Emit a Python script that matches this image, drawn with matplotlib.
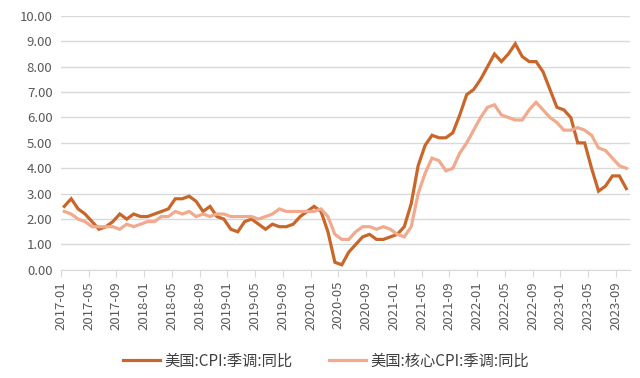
import numpy as np
import matplotlib
matplotlib.use("Agg")
import matplotlib.pyplot as plt

plt.rcParams["font.family"] = ["Noto Sans CJK SC", "DejaVu Sans"]

# monthly, 2017-01 .. 2023-10
months = [f"{y}-{m:02d}" for y in range(2017, 2024) for m in range(1, 13)][:82]

cpi = [
    2.5, 2.8, 2.4, 2.2, 1.9, 1.6, 1.7, 1.9, 2.2, 2.0, 2.2, 2.1,   # 2017
    2.1, 2.2, 2.3, 2.4, 2.8, 2.8, 2.9, 2.7, 2.3, 2.5, 2.1, 2.0,   # 2018
    1.6, 1.5, 1.9, 2.0, 1.8, 1.6, 1.8, 1.7, 1.7, 1.8, 2.1, 2.3,   # 2019
    2.5, 2.3, 1.5, 0.3, 0.2, 0.7, 1.0, 1.3, 1.4, 1.2, 1.2, 1.3,   # 2020
    1.4, 1.7, 2.6, 4.1, 4.9, 5.3, 5.2, 5.2, 5.4, 6.1, 6.9, 7.1,   # 2021
    7.5, 8.0, 8.5, 8.2, 8.5, 8.9, 8.4, 8.2, 8.2, 7.8, 7.1, 6.4,   # 2022
    6.3, 6.0, 5.0, 5.0, 4.0, 3.1, 3.3, 3.7, 3.7, 3.2,             # 2023
]
core = [
    2.3, 2.2, 2.0, 1.9, 1.7, 1.7, 1.7, 1.7, 1.6, 1.8, 1.7, 1.8,   # 2017
    1.9, 1.9, 2.1, 2.1, 2.3, 2.2, 2.3, 2.1, 2.2, 2.1, 2.2, 2.2,   # 2018
    2.1, 2.1, 2.1, 2.1, 2.0, 2.1, 2.2, 2.4, 2.3, 2.3, 2.3, 2.3,   # 2019
    2.3, 2.4, 2.1, 1.4, 1.2, 1.2, 1.5, 1.7, 1.7, 1.6, 1.7, 1.6,   # 2020
    1.4, 1.3, 1.7, 3.0, 3.8, 4.4, 4.3, 3.9, 4.0, 4.6, 5.0, 5.5,   # 2021
    6.0, 6.4, 6.5, 6.1, 6.0, 5.9, 5.9, 6.3, 6.6, 6.3, 6.0, 5.8,   # 2022
    5.5, 5.5, 5.6, 5.5, 5.3, 4.8, 4.7, 4.4, 4.1, 4.0,             # 2023
]
labels = ["美国:CPI:季调:同比", "美国:核心CPI:季调:同比"]
colors = ["#C9672B", "#F1AA8D"]

fig = plt.figure(figsize=(6.4, 3.78), dpi=100)
ax = fig.add_axes([0.095, 0.286, 0.889, 0.672])

x = np.arange(len(months))
ax.plot(x, cpi, color=colors[0], lw=2.3, label=labels[0], solid_joinstyle="miter")
ax.plot(x, core, color=colors[1], lw=2.3, label=labels[1], solid_joinstyle="miter")

ax.set_xlim(-0.5, len(months) - 0.5)
ax.set_ylim(0, 10)
ax.set_yticks(np.arange(0, 11, 1))
ax.set_yticklabels([f"{v:.2f}" for v in range(11)])
tick_idx = np.arange(0, len(months), 4)
ax.set_xticks(tick_idx - 0.5)
ax.set_xticklabels([months[i] for i in tick_idx], rotation=90)

ax.grid(axis="y", color="#D9D9D9", lw=1.0)
ax.set_axisbelow(True)
for s in ("top", "right", "left"):
    ax.spines[s].set_visible(False)
ax.spines["bottom"].set_color("#D9D9D9")
ax.tick_params(axis="y", length=0, labelsize=9.5, labelcolor="#595959", pad=6)
ax.tick_params(axis="x", length=5, color="#D9D9D9", labelsize=9.5,
               labelcolor="#595959", pad=3)

fig.legend(loc="center", bbox_to_anchor=(0.51, 0.045), ncol=2, frameon=False,
           fontsize=11, handlelength=2.4, columnspacing=2.4, handletextpad=0.3,
           labelcolor="#404040")

fig.savefig("out.png", dpi=100)
